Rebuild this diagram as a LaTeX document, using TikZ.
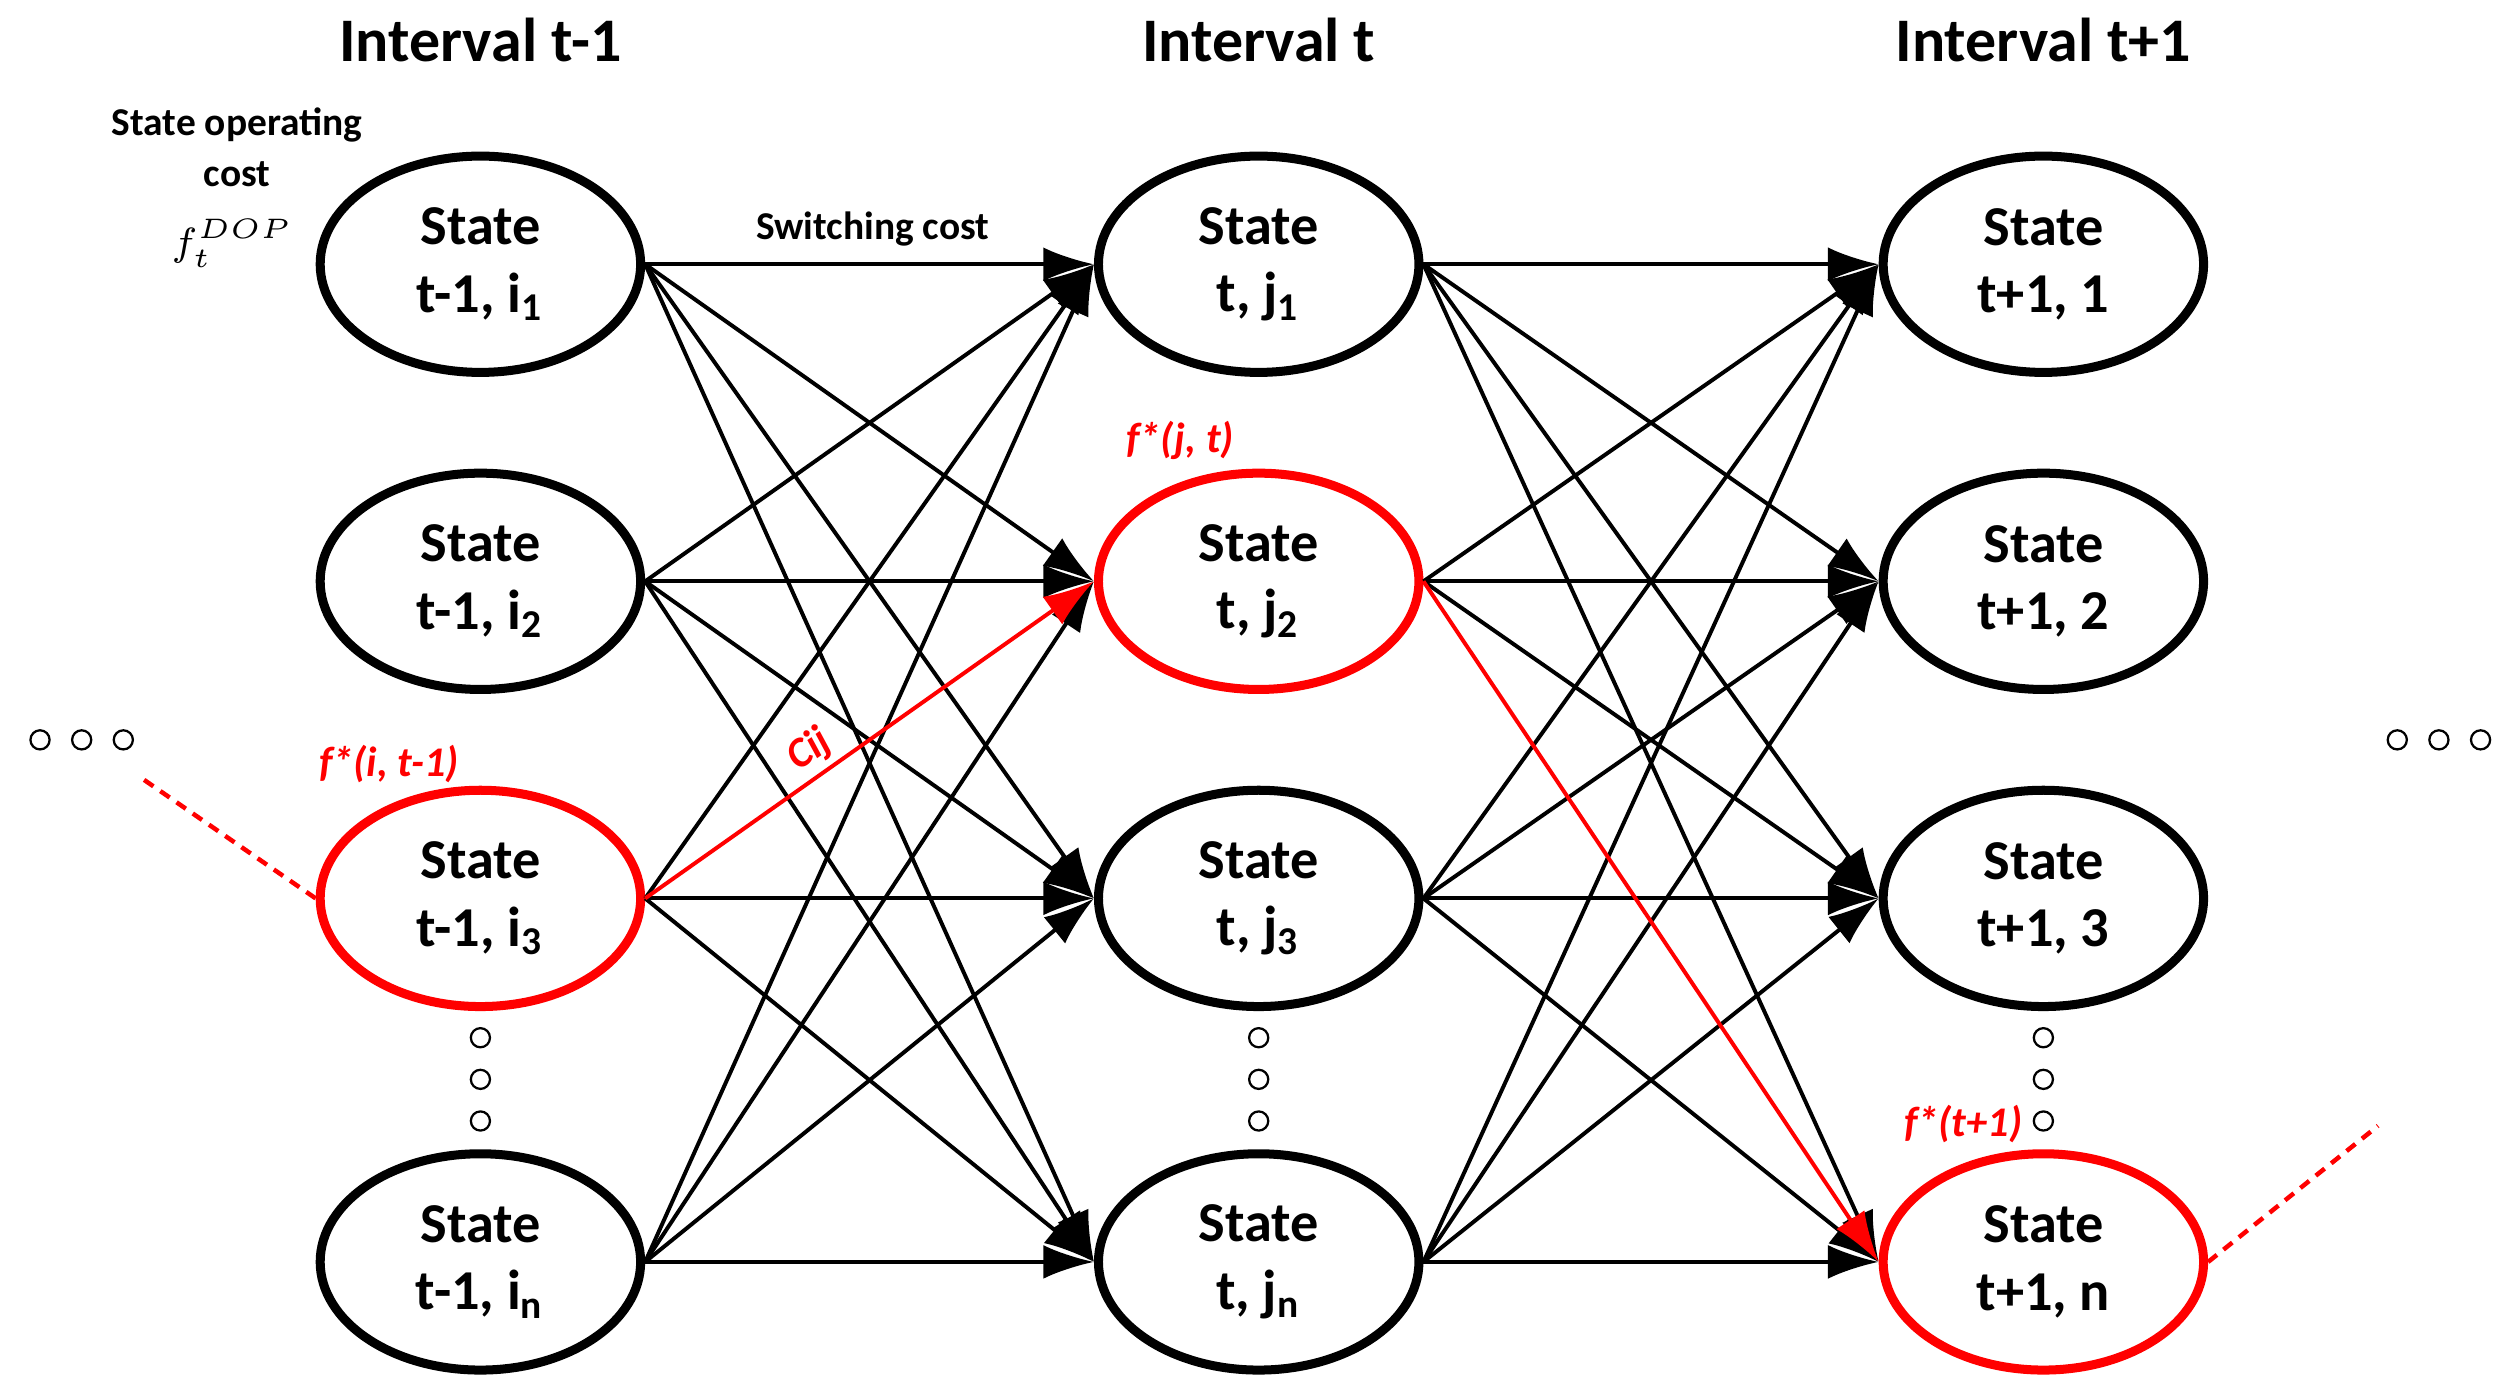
\documentclass[tikz,border=0pt]{standalone}
\usepackage{fontspec}
\setmainfont{Carlito}
\usetikzlibrary{arrows.meta,shapes.geometric}
\begin{document}
\begin{tikzpicture}[x=0.01cm,y=-0.01cm,
 st/.style={draw,line width=1.6pt,ellipse,inner sep=0pt,font=\bfseries\fontsize{10}{12}\selectfont,align=center,minimum width=2cm,minimum height=1.35cm},
 red st/.style={st,draw=red},
 ar/.style={line width=0.7pt,-{Latex[length=9pt,width=6pt]}},
 dot/.style={circle,draw,inner sep=0pt,minimum size=3.4pt,line width=0.4pt},
 ttl/.style={font=\bfseries\fontsize{11}{13}\selectfont},
 dsh/.style={red,line width=0.8pt,dash pattern=on 2pt off 1.5pt}]
\useasboundingbox (0,0) rectangle (1568,872);
\foreach \n/\x/\y/\a/\b/\s in {a1/300/165/t-1/i\textsubscript{1}/st,a2/300/363/t-1/i\textsubscript{2}/st,a3/300/561/t-1/i\textsubscript{3}/red st,a4/300/788/t-1/i\textsubscript{n}/st,
 b1/786/165/t/j\textsubscript{1}/st,b2/786/363/t/j\textsubscript{2}/red st,b3/786/561/t/j\textsubscript{3}/st,b4/786/788/t/j\textsubscript{n}/st,
 c1/1276/165/t+1/1/st,c2/1276/363/t+1/2/st,c3/1276/561/t+1/3/st,c4/1276/788/t+1/n/red st}
 \node[\s] (\n) at (\x,\y) {State\\\a, \b};
\foreach \i in {1,...,4}{\foreach \j in {1,...,4}{
 \ifnum\i=3 \ifnum\j=2 \else \draw[ar] (a\i.east) -- (b\j.west); \fi \else \draw[ar] (a\i.east) -- (b\j.west);\fi
 \ifnum\i=2 \ifnum\j=4 \else \draw[ar] (b\i.east) -- (c\j.west); \fi \else \draw[ar] (b\i.east) -- (c\j.west);\fi
}}
\draw[ar,red] (a3.east) -- node[sloped,above,inner sep=1pt,font=\bfseries\itshape\fontsize{7.5}{9}\selectfont,pos=0.4]{Cij} (b2.west);
\draw[ar,red] (b2.east) -- (c4.west);
\node[ttl] at (300,25) {Interval t-1};
\node[ttl] at (786,25) {Interval t};
\node[ttl] at (1276,25) {Interval t+1};
\node[font=\bfseries\fontsize{7}{9}\selectfont,align=center] at (148,92) {State operating\\cost};
\node[font=\fontsize{7}{8}\selectfont] at (145,152) {$f_t^{DOP}$};
\node[font=\bfseries\fontsize{7}{9}\selectfont] at (545,143) {Switching cost};
\node[red,font=\bfseries\itshape\fontsize{7.5}{9}\selectfont] at (737,275) {f*(j, t)};
\node[red,font=\bfseries\itshape\fontsize{7.5}{9}\selectfont] at (243,477) {f*(i, t-1)};
\node[red,font=\bfseries\itshape\fontsize{7.5}{9}\selectfont] at (1226,702) {f*(t+1)};
\foreach \x in {25,51,77,1497,1523,1549} \node[dot] at (\x,462) {};
\foreach \x in {300,786,1276}{\foreach \y in {648,674,700} \node[dot] at (\x,\y) {};}
\coordinate (d1) at (90,487); \coordinate (d2) at (1485,703);
\draw[dsh] (d1) -- (a3.west);
\draw[dsh] (c4.east) -- (d2);
\end{tikzpicture}
\end{document}
